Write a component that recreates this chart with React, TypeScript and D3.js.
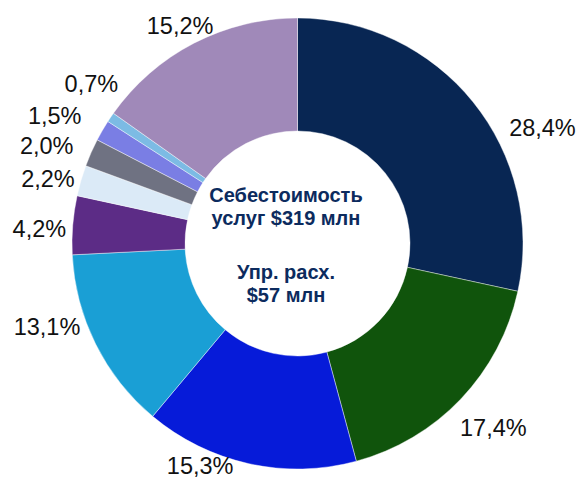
import React from "react";
import * as d3 from "d3";

// share of each cost item, clockwise from 12 o'clock
const shares = [28.4, 17.4, 15.3, 13.1, 4.2, 2.2, 2.0, 1.5, 0.7, 15.2];
const colors = [
  "#082653", "#10540c", "#061bd9", "#1a9fd5", "#5c2c86",
  "#dbeaf7", "#6f7282", "#7a7ee4", "#7cbbe4", "#a089b9",
];
const centerLines = ["Себестоимость", "услуг $319 млн", "Упр. расх.", "$57 млн"];

// label nudges from the mid-angle anchor (layout only)
const labelNudge: [number, number][] = [
  [41, 48], [6, 3], [-41, -34], [-16, -34], [3, 6],
  [2, 8], [-11, 8], [-16, 3], [11, -13], [3, 15],
];

const W = 580;
const H = 478;
const cx = 297.5;
const cy = 243.5;
const outer = 225.5;
const inner = 112.5;

function fmt(v: number) {
  return v.toFixed(1).replace(".", ",") + "%";
}

export default function App() {
  const pie = d3
    .pie<number>()
    .sort(null)
    .value((d) => d)
    .startAngle(0)
    .endAngle(2 * Math.PI);
  const arcs = pie(shares);

  const arc = d3.arc<d3.PieArcDatum<number>>().innerRadius(inner).outerRadius(outer);
  const labelArc = d3.arc<d3.PieArcDatum<number>>().innerRadius(262).outerRadius(262);

  const centerY = [202, 225, 279, 302];

  return (
    <svg
      width={W}
      height={H}
      style={{ position: "absolute", left: 0, top: 0, display: "block", background: "#fff" }}
      fontFamily="'Liberation Sans', Arial, sans-serif"
    >
      <g transform={`translate(${cx},${cy})`}>
        {arcs.map((a, i) => (
          <path key={i} d={arc(a) || ""} fill={colors[i]} stroke="#ffffff" strokeWidth={0.6} strokeOpacity={0.7} />
        ))}
        {arcs.map((a, i) => {
          const [x, y] = labelArc.centroid(a);
          return (
            <text
              key={"l" + i}
              x={x + labelNudge[i][0]}
              y={y + labelNudge[i][1]}
              dy="0.36em"
              textAnchor="middle"
              fontSize={23.5}
              fill="#111"
            >
              {fmt(shares[i])}
            </text>
          );
        })}
      </g>
      {centerLines.map((t, i) => (
        <text
          key={"c" + i}
          x={286}
          y={centerY[i]}
          textAnchor="middle"
          fontSize={20}
          fontWeight="bold"
          fill="#0c2b5e"
        >
          {t}
        </text>
      ))}
    </svg>
  );
}
